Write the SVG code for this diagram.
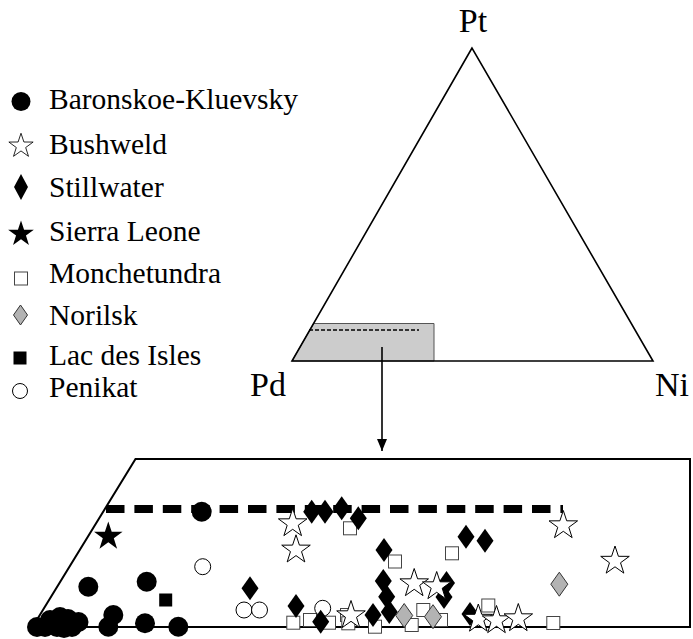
<svg xmlns="http://www.w3.org/2000/svg" width="693" height="639" viewBox="0 0 693 639">
<defs>
<path id="star" d="M0,-15 L3.41,-4.69 L14.27,-4.64 L5.52,1.79 L8.82,12.14 L0,5.8 L-8.82,12.14 L-5.52,1.79 L-14.27,-4.64 L-3.41,-4.69 Z"/>
<path id="dia" d="M0,-12 L8.5,0 L0,12 L-8.5,0 Z"/>
<rect id="sq" x="-6.5" y="-6.5" width="13" height="13"/>
<marker id="ah" markerWidth="12" markerHeight="10" refX="12" refY="5" orient="auto" markerUnits="userSpaceOnUse" viewBox="0 0 12 10">
<path d="M0,0 L12,5 L0,10 Z" fill="#000"/>
</marker>
</defs>
<rect width="693" height="639" fill="#fff"/>

<g id="legend" font-family="Liberation Serif" font-size="29.5">
<g id="leg-baronskoe"><circle cx="21" cy="101.5" r="9.5" fill="#000"/><text x="49" y="109" font-family="Liberation Serif">Baronskoe-Kluevsky</text></g>
<g id="leg-bushweld"><use href="#star" transform="translate(21,146) scale(0.85)" fill="#fff" stroke="#000" stroke-width="1"/><text x="49" y="154" font-family="Liberation Serif">Bushweld</text></g>
<g id="leg-stillwater"><path d="M21,174 L28,187 L21,200 L14,187 Z" fill="#000"/><text x="49" y="197" font-family="Liberation Serif">Stillwater</text></g>
<g id="leg-sierra"><use href="#star" transform="translate(21,234) scale(0.9)" fill="#000"/><text x="49" y="241" font-family="Liberation Serif">Sierra Leone</text></g>
<g id="leg-monchetundra"><rect x="14.5" y="272" width="13" height="13" fill="#fff" stroke="#444" stroke-width="1"/><text x="49" y="283" font-family="Liberation Serif">Monchetundra</text></g>
<g id="leg-norilsk"><path d="M20.5,305 L27.5,315 L20.5,325 L13.5,315 Z" fill="#b3b3b3" stroke="#333" stroke-width="1"/><text x="49" y="325" font-family="Liberation Serif">Norilsk</text></g>
<g id="leg-lac"><rect x="13.5" y="351.5" width="13" height="13" fill="#000"/><text x="49" y="365" font-family="Liberation Serif">Lac des Isles</text></g>
<g id="leg-penikat"><circle cx="20" cy="391" r="7.5" fill="#fff" stroke="#000" stroke-width="1"/><text x="49" y="397" font-family="Liberation Serif">Penikat</text></g>
</g>

<g id="ternary" font-family="Liberation Serif" font-size="34">
<polygon points="292,361 313.6,323.5 434,323.5 434,361" fill="#cccccc" stroke="#555" stroke-width="1"/>
<line x1="309" y1="330" x2="419" y2="330" stroke="#000" stroke-width="1.5" stroke-dasharray="4,2"/>
<polygon points="472,48 292,361 653,361" fill="none" stroke="#000" stroke-width="1.6"/>
<text x="473" y="32" text-anchor="middle" font-family="Liberation Serif">Pt</text>
<text x="250" y="396" font-family="Liberation Serif">Pd</text>
<text x="655" y="396" font-family="Liberation Serif">Ni</text>
</g>

<g id="connectors">
<line x1="382" y1="347" x2="382" y2="451" stroke="#000" stroke-width="1.6" marker-end="url(#ah)"/>
</g>

<g id="inset">
<polygon points="135.5,459 690,459 690,627 32.5,627" fill="none" stroke="#000" stroke-width="2"/>
<line x1="106" y1="509" x2="563" y2="509" stroke="#000" stroke-width="8" stroke-dasharray="18.5,9.9"/>

<g id="baronskoe-pts" fill="#000">
<circle cx="201.7" cy="511.7" r="10"/>
<circle cx="88.3" cy="586.7" r="10"/>
<circle cx="146.7" cy="581.7" r="10"/>
<circle cx="37" cy="627" r="10"/>
<circle cx="45" cy="627" r="10"/>
<circle cx="50" cy="620" r="10"/>
<circle cx="57" cy="627" r="10"/>
<circle cx="60" cy="617" r="10"/>
<circle cx="68" cy="619" r="10"/>
<circle cx="72" cy="627" r="10"/>
<circle cx="78.5" cy="622" r="10"/>
<circle cx="64" cy="628" r="10"/>
<circle cx="113.3" cy="615" r="10"/>
<circle cx="108.3" cy="626.7" r="10"/>
<circle cx="145" cy="623.3" r="10"/>
<circle cx="178.3" cy="626.7" r="10"/>
</g>

<g id="lac-pts" fill="#000">
<rect x="159.2" y="593.5" width="13" height="13"/>
</g>

<g id="sierra-pts" fill="#000">
<use href="#star" x="108.3" y="536.5"/>
</g>

<g id="monchetundra-pts" fill="#fff" stroke="#444" stroke-width="1">
<use href="#sq" x="350" y="528.3"/>
<use href="#sq" x="395" y="561.5"/>
<use href="#sq" x="452" y="553.3"/>
<use href="#sq" x="293.3" y="622.7"/>
<use href="#sq" x="310" y="620"/>
<use href="#sq" x="329" y="622.7"/>
<use href="#sq" x="347" y="615"/>
<use href="#sq" x="348.3" y="623.3"/>
<use href="#sq" x="375" y="626.7"/>
<use href="#sq" x="423.3" y="610"/>
<use href="#sq" x="411.7" y="625"/>
<use href="#sq" x="441" y="620"/>
<use href="#sq" x="488.3" y="605.5"/>
<use href="#sq" x="553.3" y="623"/>
</g>

<g id="penikat-pts" fill="#fff" stroke="#000" stroke-width="1">
<circle cx="202.7" cy="566.7" r="8"/>
<circle cx="244" cy="610" r="8"/>
<circle cx="259.5" cy="610" r="8"/>
<circle cx="322.7" cy="608.3" r="8"/>
</g>

<g id="stillwater-pts" fill="#000">
<use href="#dia" x="250" y="588.3"/>
<use href="#dia" x="311.7" y="511.7"/>
<use href="#dia" x="325" y="511.7"/>
<use href="#dia" x="341.7" y="508.3"/>
<use href="#dia" x="358.3" y="518.3"/>
<use href="#dia" x="296" y="606"/>
<use href="#dia" x="320.7" y="621.7"/>
<use href="#dia" x="384" y="550"/>
<use href="#dia" x="466" y="536.7"/>
<use href="#dia" x="485" y="540.7"/>
<use href="#dia" x="383.3" y="581"/>
<use href="#dia" x="386.7" y="596.7"/>
<use href="#dia" x="389.3" y="612"/>
<use href="#dia" x="373" y="615"/>
<use href="#dia" x="446.5" y="583"/>
<use href="#dia" x="444" y="597"/>
<use href="#dia" x="470" y="614"/>
</g>

<g id="norilsk-pts" fill="#b3b3b3" stroke="#333" stroke-width="1">
<use href="#dia" x="404.2" y="615.5"/>
<use href="#dia" x="433" y="616.7"/>
<use href="#dia" x="559.3" y="584.2"/>
</g>

<g id="bushweld-pts" fill="#fff" stroke="#000" stroke-width="1">
<use href="#star" x="292.7" y="523.5"/>
<use href="#star" x="296" y="549.8"/>
<use href="#star" x="351" y="615.5"/>
<use href="#star" x="414.2" y="583.5"/>
<use href="#star" x="436.7" y="586.5"/>
<use href="#star" x="478.3" y="619"/>
<use href="#star" x="496.5" y="620.5"/>
<use href="#star" x="518.3" y="618.5"/>
<use href="#star" x="563.3" y="525.5"/>
<use href="#star" x="615" y="561"/>
</g>
</g>
</svg>
